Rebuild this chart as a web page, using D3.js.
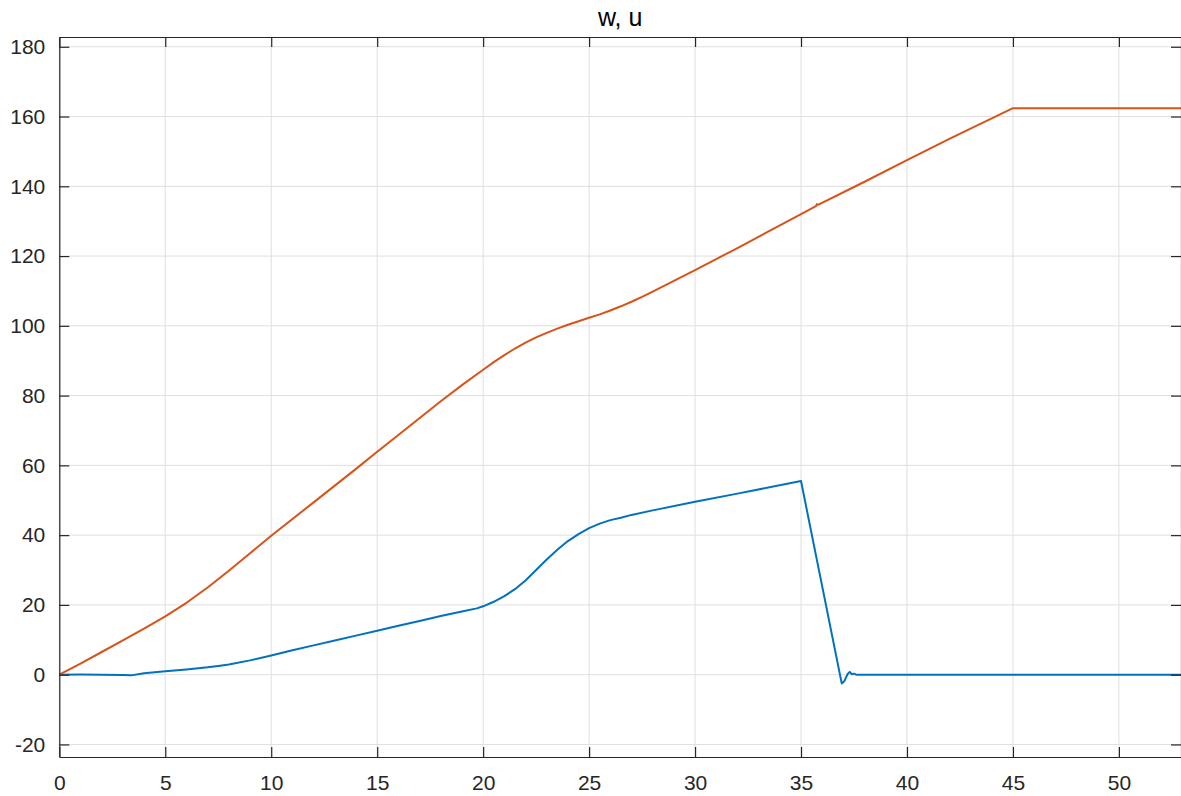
<!DOCTYPE html>
<html>
<head>
<meta charset="utf-8">
<script src="https://d3js.org/d3.v7.min.js"></script>
<style>
    body { margin: 0; background: #fff; }
    svg { display: block; font-family: Arial, "Liberation Sans", sans-serif; }
</style>
</head>
<body>
<svg id="drawing_region"></svg>
<script>
// w (blue) samples
const w_t = [0, 1, 2, 3, 3.4, 4, 5, 6, 7, 7.5, 8, 9, 10, 11, 12, 13, 14, 15, 16, 17, 18, 19, 19.7, 20,
    20.5, 21, 21.5, 22, 22.5, 23, 23.5, 24, 24.5, 25, 25.5, 26, 26.5, 27, 28, 30, 32, 35,
    36.92, 37.05, 37.2, 37.3, 37.4, 37.5, 37.6, 52.93];
const w_val = [0, 0.05, 0, -0.1, -0.2, 0.4, 1.0, 1.5, 2.1, 2.5, 2.9, 4.1, 5.5, 7.0, 8.4, 9.8, 11.2, 12.6, 14.0, 15.4, 16.8, 18.1, 19.0, 19.6,
    20.9, 22.5, 24.5, 27.0, 30.0, 33.0, 35.8, 38.3, 40.3, 42.0, 43.3, 44.3, 45.0, 45.8, 47.1, 49.6, 51.9, 55.5,
    -2.5, -1.8, 0.2, 0.8, 0.1, 0.3, 0, 0];

// u (orange) samples
const u_t = [0, 1, 2, 3, 4, 5, 6, 7, 8, 9, 10, 12, 14, 15, 16, 18, 19, 20, 20.5, 21, 21.5, 22, 22.5, 23,
    23.5, 24, 24.5, 25, 25.5, 26, 26.5, 27, 27.5, 28, 29, 30, 32, 35, 35.7, 35.75, 35.8, 38, 40, 42, 45, 52.93];
const u_val = [0, 3.2, 6.5, 9.8, 13.2, 16.7, 20.6, 25.0, 29.8, 34.8, 39.8, 49.4, 59.0, 63.9, 68.7, 78.4, 83.0, 87.4, 89.6, 91.6, 93.5, 95.2, 96.7, 98.0,
    99.2, 100.3, 101.3, 102.3, 103.3, 104.4, 105.6, 106.9, 108.3, 109.8, 112.9, 116.0, 122.3, 132.0, 134.3, 134.9, 134.7, 141.3, 147.5, 153.6, 162.4, 162.4];

const x_ticks = [0, 5, 10, 15, 20, 25, 30, 35, 40, 45, 50];
const y_ticks = [-20, 0, 20, 40, 60, 80, 100, 120, 140, 160, 180];
const x_domain = [0, 52.93];
const y_domain = [-23.6, 182.8];

const config = {
    width: 1181,
    height: 796,
    margin: {top: 37, right: 0, bottom: 39, left: 59.3}
};

const svg = d3.select('#drawing_region')
    .attr('width', config.width)
    .attr('height', config.height);

const inner_width = config.width - config.margin.left - config.margin.right;
const inner_height = config.height - config.margin.top - config.margin.bottom;

const chart = svg.append('g')
    .attr('transform', `translate(${config.margin.left}, ${config.margin.top})`);

const xscale = d3.scaleLinear().domain(x_domain).range([0, inner_width]);
const yscale = d3.scaleLinear().domain(y_domain).range([inner_height, 0]);

// grid
chart.append('g')
    .selectAll('line')
    .data(x_ticks)
    .join('line')
    .attr('x1', d => xscale(d)).attr('x2', d => xscale(d))
    .attr('y1', 0).attr('y2', inner_height)
    .attr('stroke', '#dfdfdf').attr('stroke-width', 1);

chart.append('g')
    .selectAll('line')
    .data(y_ticks)
    .join('line')
    .attr('x1', 0).attr('x2', inner_width)
    .attr('y1', d => yscale(d)).attr('y2', d => yscale(d))
    .attr('stroke', '#dfdfdf').attr('stroke-width', 1);

// lines
const w_data = w_t.map((t, i) => ({t: t, v: w_val[i]}));
const u_data = u_t.map((t, i) => ({t: t, v: u_val[i]}));

const line = d3.line()
    .x(d => xscale(d.t))
    .y(d => yscale(d.v));

chart.append('path')
    .datum(w_data)
    .attr('d', line)
    .attr('fill', 'none')
    .attr('stroke', '#0072BD')
    .attr('stroke-width', 2)
    .attr('stroke-linejoin', 'round');

chart.append('path')
    .datum(u_data)
    .attr('d', line)
    .attr('fill', 'none')
    .attr('stroke', '#D95319')
    .attr('stroke-width', 2)
    .attr('stroke-linejoin', 'round');

// axes (ticks point inward, box on all sides)
const xaxis = d3.axisBottom(xscale).tickValues(x_ticks).tickSize(-10).tickPadding(14).tickSizeOuter(0).tickFormat(d => String(d));
const yaxis = d3.axisLeft(yscale).tickValues(y_ticks).tickSize(-10).tickPadding(14).tickSizeOuter(0).tickFormat(d => String(d));

const xaxis_group = chart.append('g')
    .attr('transform', `translate(0, ${inner_height})`)
    .call(xaxis);
const yaxis_group = chart.append('g')
    .call(yaxis);

chart.append('g')
    .call(d3.axisTop(xscale).tickValues(x_ticks).tickSize(-10).tickSizeOuter(0).tickFormat(''));
chart.append('g')
    .attr('transform', `translate(${inner_width}, 0)`)
    .call(d3.axisRight(yscale).tickValues(y_ticks).tickSize(-10).tickSizeOuter(0).tickFormat(''));

chart.selectAll('.domain, .tick line')
    .attr('stroke', '#262626')
    .attr('stroke-width', 1.2);

chart.selectAll('.tick text')
    .attr('fill', '#262626')
    .style('font-size', '21px')
    .style('font-family', 'Arial, "Liberation Sans", sans-serif');

xaxis_group.selectAll('.tick text').attr('dy', '0.9em');

// title
svg.append('text')
    .attr('x', config.margin.left + inner_width / 2)
    .attr('y', 26)
    .attr('text-anchor', 'middle')
    .attr('fill', '#000')
    .style('font-size', '25px')
    .text('w, u');
</script>
</body>
</html>
